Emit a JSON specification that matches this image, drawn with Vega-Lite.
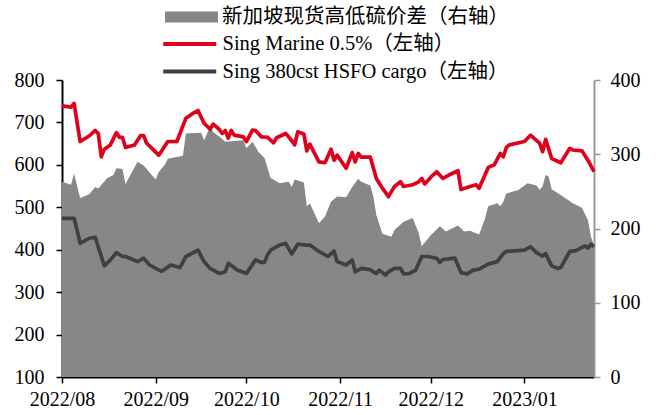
{
  "$schema": "https://vega.github.io/schema/vega-lite/v6.json",
  "width": 532,
  "height": 297,
  "autosize": "none",
  "padding": {"left": 62, "top": 80, "right": 68, "bottom": 38},
  "background": "white",
  "config": {
    "view": {"stroke": null},
    "font": "Liberation Serif",
    "axis": {"labelFont": "Liberation Serif", "labelFontSize": 20, "labelColor": "#000000", "grid": false, "title": null, "tickSize": 6, "zindex": 1}
  },
  "datasets": {
    "spread": [
      {"date": "2022-08-01", "spread": 263}, {"date": "2022-08-04", "spread": 259}, {"date": "2022-08-05", "spread": 274},
      {"date": "2022-08-07", "spread": 241}, {"date": "2022-08-10", "spread": 246}, {"date": "2022-08-12", "spread": 256},
      {"date": "2022-08-13", "spread": 254}, {"date": "2022-08-16", "spread": 268}, {"date": "2022-08-18", "spread": 272},
      {"date": "2022-08-19", "spread": 281}, {"date": "2022-08-21", "spread": 280}, {"date": "2022-08-22", "spread": 260},
      {"date": "2022-08-26", "spread": 290}, {"date": "2022-08-28", "spread": 285}, {"date": "2022-09-01", "spread": 266},
      {"date": "2022-09-02", "spread": 276}, {"date": "2022-09-04", "spread": 286}, {"date": "2022-09-05", "spread": 294},
      {"date": "2022-09-10", "spread": 298}, {"date": "2022-09-11", "spread": 328}, {"date": "2022-09-16", "spread": 329},
      {"date": "2022-09-17", "spread": 319}, {"date": "2022-09-19", "spread": 337}, {"date": "2022-09-20", "spread": 330},
      {"date": "2022-09-22", "spread": 324}, {"date": "2022-09-24", "spread": 317}, {"date": "2022-09-30", "spread": 319},
      {"date": "2022-10-01", "spread": 308}, {"date": "2022-10-03", "spread": 317}, {"date": "2022-10-05", "spread": 303},
      {"date": "2022-10-07", "spread": 295}, {"date": "2022-10-09", "spread": 268}, {"date": "2022-10-12", "spread": 261},
      {"date": "2022-10-15", "spread": 263}, {"date": "2022-10-16", "spread": 256}, {"date": "2022-10-17", "spread": 266},
      {"date": "2022-10-20", "spread": 262}, {"date": "2022-10-21", "spread": 230}, {"date": "2022-10-22", "spread": 234},
      {"date": "2022-10-25", "spread": 207}, {"date": "2022-10-27", "spread": 216}, {"date": "2022-10-29", "spread": 236},
      {"date": "2022-10-31", "spread": 243}, {"date": "2022-11-03", "spread": 242}, {"date": "2022-11-05", "spread": 256},
      {"date": "2022-11-07", "spread": 267}, {"date": "2022-11-08", "spread": 263}, {"date": "2022-11-11", "spread": 258},
      {"date": "2022-11-12", "spread": 243}, {"date": "2022-11-13", "spread": 218}, {"date": "2022-11-15", "spread": 193},
      {"date": "2022-11-18", "spread": 189}, {"date": "2022-11-19", "spread": 198}, {"date": "2022-11-22", "spread": 209},
      {"date": "2022-11-25", "spread": 214}, {"date": "2022-11-27", "spread": 194}, {"date": "2022-11-28", "spread": 176},
      {"date": "2022-12-01", "spread": 191}, {"date": "2022-12-04", "spread": 203}, {"date": "2022-12-06", "spread": 196},
      {"date": "2022-12-10", "spread": 204}, {"date": "2022-12-12", "spread": 196}, {"date": "2022-12-14", "spread": 197},
      {"date": "2022-12-17", "spread": 192}, {"date": "2022-12-19", "spread": 214}, {"date": "2022-12-20", "spread": 230},
      {"date": "2022-12-23", "spread": 234}, {"date": "2022-12-24", "spread": 230}, {"date": "2022-12-25", "spread": 236},
      {"date": "2022-12-26", "spread": 247}, {"date": "2022-12-30", "spread": 252}, {"date": "2023-01-02", "spread": 261},
      {"date": "2023-01-05", "spread": 258}, {"date": "2023-01-06", "spread": 252}, {"date": "2023-01-07", "spread": 257},
      {"date": "2023-01-08", "spread": 272}, {"date": "2023-01-09", "spread": 270}, {"date": "2023-01-10", "spread": 253},
      {"date": "2023-01-13", "spread": 245}, {"date": "2023-01-17", "spread": 234}, {"date": "2023-01-20", "spread": 228},
      {"date": "2023-01-22", "spread": 211}, {"date": "2023-01-23", "spread": 189}, {"date": "2023-01-24", "spread": 177}
    ],
    "prices": [
      {"series": "Sing Marine 0.5%（左轴）", "date": "2022-08-01", "price": 739},
      {"series": "Sing Marine 0.5%（左轴）", "date": "2022-08-04", "price": 736},
      {"series": "Sing Marine 0.5%（左轴）", "date": "2022-08-05", "price": 745},
      {"series": "Sing Marine 0.5%（左轴）", "date": "2022-08-07", "price": 655},
      {"series": "Sing Marine 0.5%（左轴）", "date": "2022-08-10", "price": 668},
      {"series": "Sing Marine 0.5%（左轴）", "date": "2022-08-12", "price": 681},
      {"series": "Sing Marine 0.5%（左轴）", "date": "2022-08-13", "price": 674},
      {"series": "Sing Marine 0.5%（左轴）", "date": "2022-08-14", "price": 619},
      {"series": "Sing Marine 0.5%（左轴）", "date": "2022-08-15", "price": 637},
      {"series": "Sing Marine 0.5%（左轴）", "date": "2022-08-17", "price": 647},
      {"series": "Sing Marine 0.5%（左轴）", "date": "2022-08-19", "price": 676},
      {"series": "Sing Marine 0.5%（左轴）", "date": "2022-08-20", "price": 665},
      {"series": "Sing Marine 0.5%（左轴）", "date": "2022-08-21", "price": 665},
      {"series": "Sing Marine 0.5%（左轴）", "date": "2022-08-22", "price": 641},
      {"series": "Sing Marine 0.5%（左轴）", "date": "2022-08-25", "price": 647},
      {"series": "Sing Marine 0.5%（左轴）", "date": "2022-08-27", "price": 669},
      {"series": "Sing Marine 0.5%（左轴）", "date": "2022-08-28", "price": 669},
      {"series": "Sing Marine 0.5%（左轴）", "date": "2022-08-29", "price": 651},
      {"series": "Sing Marine 0.5%（左轴）", "date": "2022-08-31", "price": 637},
      {"series": "Sing Marine 0.5%（左轴）", "date": "2022-09-02", "price": 623},
      {"series": "Sing Marine 0.5%（左轴）", "date": "2022-09-03", "price": 633},
      {"series": "Sing Marine 0.5%（左轴）", "date": "2022-09-05", "price": 655},
      {"series": "Sing Marine 0.5%（左轴）", "date": "2022-09-08", "price": 655},
      {"series": "Sing Marine 0.5%（左轴）", "date": "2022-09-11", "price": 710},
      {"series": "Sing Marine 0.5%（左轴）", "date": "2022-09-13", "price": 720},
      {"series": "Sing Marine 0.5%（左轴）", "date": "2022-09-15", "price": 728},
      {"series": "Sing Marine 0.5%（左轴）", "date": "2022-09-17", "price": 698},
      {"series": "Sing Marine 0.5%（左轴）", "date": "2022-09-19", "price": 684},
      {"series": "Sing Marine 0.5%（左轴）", "date": "2022-09-20", "price": 696},
      {"series": "Sing Marine 0.5%（左轴）", "date": "2022-09-22", "price": 684},
      {"series": "Sing Marine 0.5%（左轴）", "date": "2022-09-23", "price": 674},
      {"series": "Sing Marine 0.5%（左轴）", "date": "2022-09-24", "price": 681},
      {"series": "Sing Marine 0.5%（左轴）", "date": "2022-09-25", "price": 663},
      {"series": "Sing Marine 0.5%（左轴）", "date": "2022-09-26", "price": 681},
      {"series": "Sing Marine 0.5%（左轴）", "date": "2022-09-27", "price": 670},
      {"series": "Sing Marine 0.5%（左轴）", "date": "2022-09-30", "price": 666},
      {"series": "Sing Marine 0.5%（左轴）", "date": "2022-10-01", "price": 655},
      {"series": "Sing Marine 0.5%（左轴）", "date": "2022-10-03", "price": 682},
      {"series": "Sing Marine 0.5%（左轴）", "date": "2022-10-04", "price": 681},
      {"series": "Sing Marine 0.5%（左轴）", "date": "2022-10-06", "price": 666},
      {"series": "Sing Marine 0.5%（左轴）", "date": "2022-10-08", "price": 665},
      {"series": "Sing Marine 0.5%（左轴）", "date": "2022-10-10", "price": 652},
      {"series": "Sing Marine 0.5%（左轴）", "date": "2022-10-11", "price": 664},
      {"series": "Sing Marine 0.5%（左轴）", "date": "2022-10-14", "price": 674},
      {"series": "Sing Marine 0.5%（左轴）", "date": "2022-10-15", "price": 666},
      {"series": "Sing Marine 0.5%（左轴）", "date": "2022-10-17", "price": 647},
      {"series": "Sing Marine 0.5%（左轴）", "date": "2022-10-18", "price": 678},
      {"series": "Sing Marine 0.5%（左轴）", "date": "2022-10-20", "price": 673},
      {"series": "Sing Marine 0.5%（左轴）", "date": "2022-10-21", "price": 633},
      {"series": "Sing Marine 0.5%（左轴）", "date": "2022-10-22", "price": 649},
      {"series": "Sing Marine 0.5%（左轴）", "date": "2022-10-25", "price": 607},
      {"series": "Sing Marine 0.5%（左轴）", "date": "2022-10-27", "price": 605},
      {"series": "Sing Marine 0.5%（左轴）", "date": "2022-10-29", "price": 637},
      {"series": "Sing Marine 0.5%（左轴）", "date": "2022-10-30", "price": 611},
      {"series": "Sing Marine 0.5%（左轴）", "date": "2022-10-31", "price": 623},
      {"series": "Sing Marine 0.5%（左轴）", "date": "2022-11-03", "price": 592},
      {"series": "Sing Marine 0.5%（左轴）", "date": "2022-11-05", "price": 629},
      {"series": "Sing Marine 0.5%（左轴）", "date": "2022-11-06", "price": 607},
      {"series": "Sing Marine 0.5%（左轴）", "date": "2022-11-07", "price": 627},
      {"series": "Sing Marine 0.5%（左轴）", "date": "2022-11-08", "price": 618},
      {"series": "Sing Marine 0.5%（左轴）", "date": "2022-11-11", "price": 618},
      {"series": "Sing Marine 0.5%（左轴）", "date": "2022-11-13", "price": 568},
      {"series": "Sing Marine 0.5%（左轴）", "date": "2022-11-15", "price": 545},
      {"series": "Sing Marine 0.5%（左轴）", "date": "2022-11-17", "price": 525},
      {"series": "Sing Marine 0.5%（左轴）", "date": "2022-11-19", "price": 549},
      {"series": "Sing Marine 0.5%（左轴）", "date": "2022-11-21", "price": 560},
      {"series": "Sing Marine 0.5%（左轴）", "date": "2022-11-22", "price": 549},
      {"series": "Sing Marine 0.5%（左轴）", "date": "2022-11-25", "price": 553},
      {"series": "Sing Marine 0.5%（左轴）", "date": "2022-11-27", "price": 560},
      {"series": "Sing Marine 0.5%（左轴）", "date": "2022-11-28", "price": 568},
      {"series": "Sing Marine 0.5%（左轴）", "date": "2022-11-29", "price": 555},
      {"series": "Sing Marine 0.5%（左轴）", "date": "2022-12-01", "price": 571},
      {"series": "Sing Marine 0.5%（左轴）", "date": "2022-12-03", "price": 584},
      {"series": "Sing Marine 0.5%（左轴）", "date": "2022-12-05", "price": 568},
      {"series": "Sing Marine 0.5%（左轴）", "date": "2022-12-07", "price": 576},
      {"series": "Sing Marine 0.5%（左轴）", "date": "2022-12-10", "price": 586},
      {"series": "Sing Marine 0.5%（左轴）", "date": "2022-12-11", "price": 542},
      {"series": "Sing Marine 0.5%（左轴）", "date": "2022-12-14", "price": 549},
      {"series": "Sing Marine 0.5%（左轴）", "date": "2022-12-16", "price": 553},
      {"series": "Sing Marine 0.5%（左轴）", "date": "2022-12-17", "price": 545},
      {"series": "Sing Marine 0.5%（左轴）", "date": "2022-12-20", "price": 594},
      {"series": "Sing Marine 0.5%（左轴）", "date": "2022-12-22", "price": 600},
      {"series": "Sing Marine 0.5%（左轴）", "date": "2022-12-24", "price": 627},
      {"series": "Sing Marine 0.5%（左轴）", "date": "2022-12-25", "price": 619},
      {"series": "Sing Marine 0.5%（左轴）", "date": "2022-12-26", "price": 641},
      {"series": "Sing Marine 0.5%（左轴）", "date": "2022-12-27", "price": 647},
      {"series": "Sing Marine 0.5%（左轴）", "date": "2023-01-01", "price": 655},
      {"series": "Sing Marine 0.5%（左轴）", "date": "2023-01-03", "price": 670},
      {"series": "Sing Marine 0.5%（左轴）", "date": "2023-01-06", "price": 651},
      {"series": "Sing Marine 0.5%（左轴）", "date": "2023-01-07", "price": 631},
      {"series": "Sing Marine 0.5%（左轴）", "date": "2023-01-08", "price": 660},
      {"series": "Sing Marine 0.5%（左轴）", "date": "2023-01-10", "price": 615},
      {"series": "Sing Marine 0.5%（左轴）", "date": "2023-01-13", "price": 605},
      {"series": "Sing Marine 0.5%（左轴）", "date": "2023-01-16", "price": 639},
      {"series": "Sing Marine 0.5%（左轴）", "date": "2023-01-17", "price": 635},
      {"series": "Sing Marine 0.5%（左轴）", "date": "2023-01-20", "price": 633},
      {"series": "Sing Marine 0.5%（左轴）", "date": "2023-01-22", "price": 611},
      {"series": "Sing Marine 0.5%（左轴）", "date": "2023-01-24", "price": 584},
      {"series": "Sing 380cst HSFO cargo（左轴）", "date": "2022-08-01", "price": 474},
      {"series": "Sing 380cst HSFO cargo（左轴）", "date": "2022-08-05", "price": 474},
      {"series": "Sing 380cst HSFO cargo（左轴）", "date": "2022-08-06", "price": 446},
      {"series": "Sing 380cst HSFO cargo（左轴）", "date": "2022-08-07", "price": 415},
      {"series": "Sing 380cst HSFO cargo（左轴）", "date": "2022-08-10", "price": 427},
      {"series": "Sing 380cst HSFO cargo（左轴）", "date": "2022-08-12", "price": 429},
      {"series": "Sing 380cst HSFO cargo（左轴）", "date": "2022-08-15", "price": 362},
      {"series": "Sing 380cst HSFO cargo（左轴）", "date": "2022-08-17", "price": 376},
      {"series": "Sing 380cst HSFO cargo（左轴）", "date": "2022-08-19", "price": 393},
      {"series": "Sing 380cst HSFO cargo（左轴）", "date": "2022-08-21", "price": 384},
      {"series": "Sing 380cst HSFO cargo（左轴）", "date": "2022-08-22", "price": 384},
      {"series": "Sing 380cst HSFO cargo（左轴）", "date": "2022-08-26", "price": 372},
      {"series": "Sing 380cst HSFO cargo（左轴）", "date": "2022-08-28", "price": 380},
      {"series": "Sing 380cst HSFO cargo（左轴）", "date": "2022-08-30", "price": 364},
      {"series": "Sing 380cst HSFO cargo（左轴）", "date": "2022-09-01", "price": 356},
      {"series": "Sing 380cst HSFO cargo（左轴）", "date": "2022-09-03", "price": 349},
      {"series": "Sing 380cst HSFO cargo（左轴）", "date": "2022-09-06", "price": 364},
      {"series": "Sing 380cst HSFO cargo（左轴）", "date": "2022-09-09", "price": 358},
      {"series": "Sing 380cst HSFO cargo（左轴）", "date": "2022-09-11", "price": 384},
      {"series": "Sing 380cst HSFO cargo（左轴）", "date": "2022-09-15", "price": 399},
      {"series": "Sing 380cst HSFO cargo（左轴）", "date": "2022-09-17", "price": 372},
      {"series": "Sing 380cst HSFO cargo（左轴）", "date": "2022-09-19", "price": 356},
      {"series": "Sing 380cst HSFO cargo（左轴）", "date": "2022-09-22", "price": 344},
      {"series": "Sing 380cst HSFO cargo（左轴）", "date": "2022-09-24", "price": 348},
      {"series": "Sing 380cst HSFO cargo（左轴）", "date": "2022-09-25", "price": 368},
      {"series": "Sing 380cst HSFO cargo（左轴）", "date": "2022-09-28", "price": 352},
      {"series": "Sing 380cst HSFO cargo（左轴）", "date": "2022-10-01", "price": 344},
      {"series": "Sing 380cst HSFO cargo（左轴）", "date": "2022-10-04", "price": 376},
      {"series": "Sing 380cst HSFO cargo（左轴）", "date": "2022-10-06", "price": 370},
      {"series": "Sing 380cst HSFO cargo（左轴）", "date": "2022-10-07", "price": 370},
      {"series": "Sing 380cst HSFO cargo（左轴）", "date": "2022-10-08", "price": 388},
      {"series": "Sing 380cst HSFO cargo（左轴）", "date": "2022-10-09", "price": 399},
      {"series": "Sing 380cst HSFO cargo（左轴）", "date": "2022-10-12", "price": 411},
      {"series": "Sing 380cst HSFO cargo（左轴）", "date": "2022-10-14", "price": 415},
      {"series": "Sing 380cst HSFO cargo（左轴）", "date": "2022-10-16", "price": 390},
      {"series": "Sing 380cst HSFO cargo（左轴）", "date": "2022-10-18", "price": 413},
      {"series": "Sing 380cst HSFO cargo（左轴）", "date": "2022-10-21", "price": 411},
      {"series": "Sing 380cst HSFO cargo（左轴）", "date": "2022-10-22", "price": 411},
      {"series": "Sing 380cst HSFO cargo（左轴）", "date": "2022-10-25", "price": 396},
      {"series": "Sing 380cst HSFO cargo（左轴）", "date": "2022-10-28", "price": 384},
      {"series": "Sing 380cst HSFO cargo（左轴）", "date": "2022-10-30", "price": 397},
      {"series": "Sing 380cst HSFO cargo（左轴）", "date": "2022-10-31", "price": 372},
      {"series": "Sing 380cst HSFO cargo（左轴）", "date": "2022-11-03", "price": 364},
      {"series": "Sing 380cst HSFO cargo（左轴）", "date": "2022-11-05", "price": 376},
      {"series": "Sing 380cst HSFO cargo（左轴）", "date": "2022-11-06", "price": 348},
      {"series": "Sing 380cst HSFO cargo（左轴）", "date": "2022-11-08", "price": 356},
      {"series": "Sing 380cst HSFO cargo（左轴）", "date": "2022-11-11", "price": 353},
      {"series": "Sing 380cst HSFO cargo（左轴）", "date": "2022-11-12", "price": 348},
      {"series": "Sing 380cst HSFO cargo（左轴）", "date": "2022-11-13", "price": 344},
      {"series": "Sing 380cst HSFO cargo（左轴）", "date": "2022-11-14", "price": 352},
      {"series": "Sing 380cst HSFO cargo（左轴）", "date": "2022-11-16", "price": 340},
      {"series": "Sing 380cst HSFO cargo（左轴）", "date": "2022-11-17", "price": 348},
      {"series": "Sing 380cst HSFO cargo（左轴）", "date": "2022-11-19", "price": 356},
      {"series": "Sing 380cst HSFO cargo（左轴）", "date": "2022-11-21", "price": 356},
      {"series": "Sing 380cst HSFO cargo（左轴）", "date": "2022-11-22", "price": 343},
      {"series": "Sing 380cst HSFO cargo（左轴）", "date": "2022-11-24", "price": 344},
      {"series": "Sing 380cst HSFO cargo（左轴）", "date": "2022-11-26", "price": 352},
      {"series": "Sing 380cst HSFO cargo（左轴）", "date": "2022-11-28", "price": 384},
      {"series": "Sing 380cst HSFO cargo（左轴）", "date": "2022-11-30", "price": 384},
      {"series": "Sing 380cst HSFO cargo（左轴）", "date": "2022-12-03", "price": 380},
      {"series": "Sing 380cst HSFO cargo（左轴）", "date": "2022-12-04", "price": 370},
      {"series": "Sing 380cst HSFO cargo（左轴）", "date": "2022-12-05", "price": 377},
      {"series": "Sing 380cst HSFO cargo（左轴）", "date": "2022-12-09", "price": 380},
      {"series": "Sing 380cst HSFO cargo（左轴）", "date": "2022-12-11", "price": 346},
      {"series": "Sing 380cst HSFO cargo（左轴）", "date": "2022-12-13", "price": 343},
      {"series": "Sing 380cst HSFO cargo（左轴）", "date": "2022-12-15", "price": 352},
      {"series": "Sing 380cst HSFO cargo（左轴）", "date": "2022-12-17", "price": 354},
      {"series": "Sing 380cst HSFO cargo（左轴）", "date": "2022-12-20", "price": 366},
      {"series": "Sing 380cst HSFO cargo（左轴）", "date": "2022-12-23", "price": 372},
      {"series": "Sing 380cst HSFO cargo（左轴）", "date": "2022-12-25", "price": 391},
      {"series": "Sing 380cst HSFO cargo（左轴）", "date": "2022-12-26", "price": 396},
      {"series": "Sing 380cst HSFO cargo（左轴）", "date": "2023-01-01", "price": 399},
      {"series": "Sing 380cst HSFO cargo（左轴）", "date": "2023-01-03", "price": 407},
      {"series": "Sing 380cst HSFO cargo（左轴）", "date": "2023-01-05", "price": 393},
      {"series": "Sing 380cst HSFO cargo（左轴）", "date": "2023-01-07", "price": 385},
      {"series": "Sing 380cst HSFO cargo（左轴）", "date": "2023-01-08", "price": 391},
      {"series": "Sing 380cst HSFO cargo（左轴）", "date": "2023-01-10", "price": 362},
      {"series": "Sing 380cst HSFO cargo（左轴）", "date": "2023-01-12", "price": 356},
      {"series": "Sing 380cst HSFO cargo（左轴）", "date": "2023-01-13", "price": 358},
      {"series": "Sing 380cst HSFO cargo（左轴）", "date": "2023-01-16", "price": 396},
      {"series": "Sing 380cst HSFO cargo（左轴）", "date": "2023-01-18", "price": 398},
      {"series": "Sing 380cst HSFO cargo（左轴）", "date": "2023-01-21", "price": 409},
      {"series": "Sing 380cst HSFO cargo（左轴）", "date": "2023-01-22", "price": 404},
      {"series": "Sing 380cst HSFO cargo（左轴）", "date": "2023-01-23", "price": 413},
      {"series": "Sing 380cst HSFO cargo（左轴）", "date": "2023-01-24", "price": 407}
    ]
  },
  "encoding": {
    "x": {
      "field": "date",
      "type": "temporal",
      "scale": {"type": "utc", "domain": [{"year": 2022, "month": 8, "date": 1, "utc": true}, {"year": 2023, "month": 1, "date": 24, "utc": true}]},
      "axis": {
        "orient": "bottom",
        "format": "%Y/%m",
        "values": [
          {"year": 2022, "month": 8, "date": 1, "utc": true},
          {"year": 2022, "month": 9, "date": 1, "utc": true},
          {"year": 2022, "month": 10, "date": 1, "utc": true},
          {"year": 2022, "month": 11, "date": 1, "utc": true},
          {"year": 2022, "month": 12, "date": 1, "utc": true},
          {"year": 2023, "month": 1, "date": 1, "utc": true}
        ],
        "domainColor": "#000000",
        "domainWidth": 2,
        "tickColor": "#000000",
        "tickWidth": 1.5,
        "labelPadding": 6,
        "labelFlush": false,
        "labelOverlap": false
      }
    }
  },
  "layer": [
    {
      "data": {"name": "spread"},
      "mark": {"type": "area", "interpolate": "linear"},
      "encoding": {
        "y": {
          "field": "spread",
          "type": "quantitative",
          "scale": {"domain": [0, 400], "nice": false, "zero": true},
          "axis": {"orient": "right", "values": [0, 100, 200, 300, 400], "domainColor": "#999999", "domainWidth": 2, "tickColor": "#999999", "tickWidth": 1.5, "labelPadding": 10}
        },
        "fill": {
          "datum": "新加坡现货高低硫价差（右轴）",
          "type": "nominal",
          "scale": {"domain": ["新加坡现货高低硫价差（右轴）"], "range": ["#878787"]},
          "legend": {
            "orient": "none",
            "legendX": 103,
            "legendY": -89.5,
            "title": null,
            "padding": 0,
            "symbolType": "M-1,-0.21H1V0.21H-1Z",
            "symbolSize": 2809,
            "symbolStrokeWidth": 0,
            "symbolOpacity": 1,
            "labelFont": "Liberation Serif, Noto Sans CJK SC",
            "labelFontSize": 20.5,
            "labelColor": "#000000",
            "labelOffset": 4,
            "labelLimit": 400
          }
        }
      }
    },
    {
      "data": {"name": "prices"},
      "mark": {"type": "line", "strokeWidth": 3.7, "strokeJoin": "round"},
      "encoding": {
        "y": {
          "field": "price",
          "type": "quantitative",
          "scale": {"domain": [100, 800], "nice": false, "zero": false},
          "axis": {"orient": "left", "values": [100, 200, 300, 400, 500, 600, 700, 800], "domainColor": "#000000", "domainWidth": 2, "tickColor": "#000000", "tickWidth": 1.5, "labelPadding": 12}
        },
        "stroke": {
          "field": "series",
          "type": "nominal",
          "scale": {"domain": ["Sing Marine 0.5%（左轴）", "Sing 380cst HSFO cargo（左轴）"], "range": ["#E0001B", "#404040"]},
          "legend": {
            "orient": "none",
            "legendX": 117.5,
            "legendY": -46.25,
            "title": null,
            "padding": 0,
            "symbolType": "M-5.3,0H5.3",
            "symbolSize": 100,
            "symbolStrokeWidth": 4,
            "labelFont": "Liberation Serif, Noto Sans CJK SC",
            "labelFontSize": 20.5,
            "labelColor": "#000000",
            "labelOffset": 22.5,
            "labelLimit": 400,
            "rowPadding": 6.5
          }
        }
      }
    }
  ],
  "resolve": {"scale": {"y": "independent", "fill": "independent", "stroke": "independent"}}
}
